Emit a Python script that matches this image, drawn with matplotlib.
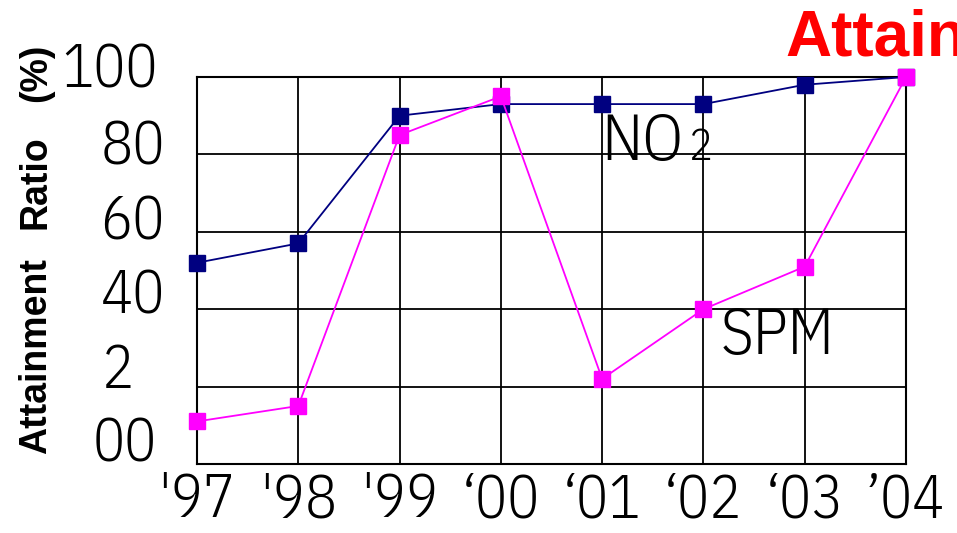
import matplotlib
matplotlib.use("Agg")
import matplotlib.pyplot as plt
from matplotlib import font_manager as fm

# ---- data ----
years = ["'97", "'98", "'99", "\u201800", "\u201801", "\u201802", "\u201803", "\u201904"]
no2 = [52, 57, 90, 93, 93, 93, 98, 100]
spm = [11, 15, 85, 95, 22, 40, 51, 100]
ytick_values = [0, 20, 40, 60, 80, 100]
ytick_labels = ["00", "2", "40", "60", "80", "100"]

def light_font(size):
    cands = ["Open Sans Condensed", "IBM Plex Sans Condensed", "Roboto Condensed",
             "Fira Sans Condensed", "Encode Sans Condensed", "Open Sans", "Lato"]
    for c in cands:
        ents = [f for f in fm.fontManager.ttflist
                if f.name == c and f.style == "normal"]
        if ents:
            e = min(ents, key=lambda f: abs(int(f.weight) - 300))
            if abs(int(e.weight) - 300) <= 100:
                return fm.FontProperties(fname=e.fname, size=size)
    return fm.FontProperties(family="DejaVu Sans", size=size)

bold = "Liberation Sans"

W, H = 957, 533
fig = plt.figure(figsize=(W / 100, H / 100), dpi=100)
L, R, T, B = 197, 906, 77, 464
ax = fig.add_axes([L / W, (H - B) / H, (R - L) / W, (B - T) / H])

x = list(range(len(years)))
ax.plot(x, no2, color="#000080", lw=1.3, marker="s", ms=11, mec="#000080",
        mfc="#000080", clip_on=False, zorder=3)
ax.plot(x, spm, color="#FF00FF", lw=1.3, marker="s", ms=11, mec="#FF00FF",
        mfc="#FF00FF", clip_on=False, zorder=4)

ax.set_xlim(0, len(years) - 1)
ax.set_ylim(0, 100)
ax.set_xticks(x)
ax.set_yticks(ytick_values)
ax.grid(True, color="black", lw=1.3)
ax.set_axisbelow(True)
for s in ax.spines.values():
    s.set_color("black")
    s.set_linewidth(1.5)
ax.tick_params(length=0)
ax.set_xticklabels(years, fontproperties=light_font(43))
ax.tick_params(axis="x", pad=6)
ax.set_yticklabels([])

def px(xp, yp):
    return xp / W, (H - yp) / H

# y tick labels (placed as in the reference, slightly above the grid lines)
ylab_pos = [(157, 445, "right"), (102, 372, "left"), (165, 297, "right"),
            (165, 223, "right"), (165, 148, "right"), (158, 71, "right")]
for (xp, yp, ha), lab in zip(ylab_pos, ytick_labels):
    fig.text(*px(xp, yp), lab, fontproperties=light_font(43), ha=ha, va="center")

# y axis title pieces
for word, yc in [("Attainment", 356), ("Ratio", 182), ("(%)", 73)]:
    fig.text(*px(36, yc), word, rotation=90, fontsize=27, family=bold,
             weight="bold", ha="center", va="center")

# series labels
fig.text(*px(601, 160), "NO", fontproperties=light_font(47), va="baseline")
fig.text(*px(689, 160), "2", fontproperties=light_font(32), va="baseline")
fig.text(*px(721, 354), "SPM", fontproperties=light_font(46), va="baseline")

# partially visible title
fig.text(*px(785, 55), "Attain", fontsize=46, family=bold, weight="bold",
         color="#FF0000", va="baseline")

fig.savefig("out.png", dpi=100)
